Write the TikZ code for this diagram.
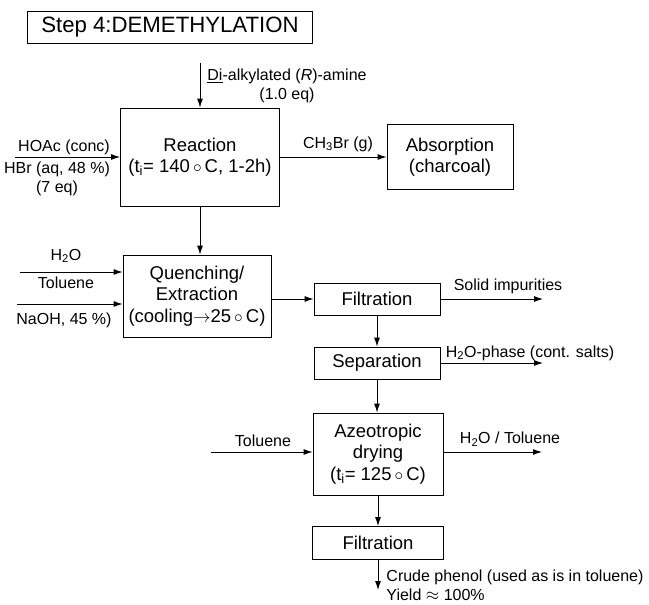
\documentclass[tikz,border=0pt]{standalone}
\usepackage{fontspec}
\setmainfont{Liberation Sans}
\usetikzlibrary{arrows.meta,positioning}

\tikzset{basic/.style={draw,line width=0.9pt,inner sep=0pt,align=center}}
\tikzset{process/.style={basic,rectangle,font=\fontsize{18.5}{21.5}\selectfont}}
\tikzset{heading/.style={basic,rectangle,font=\fontsize{22.2}{24}\selectfont}}
\tikzset{stream/.style={inner sep=0pt,align=center,font=\fontsize{16}{19}\selectfont}}

\begin{document}
\begin{tikzpicture}[x=1pt,y=-1pt,line width=0.9pt,>={Latex[length=9pt,width=6pt]}]
	\useasboundingbox (0,0) rectangle (649,605);

	\node[heading,minimum width=285pt,minimum height=32pt] (title) at (170,27) {Step 4:DEMETHYLATION};

	\node[process,minimum width=159pt,minimum height=98pt] (reaction) at (200,157) {Reaction\\(t\textsubscript{i}= 140\,$\circ$\,C, 1-2h)};
        \coordinate (amineIn) at (200,63);
            \path[draw,->] (amineIn) -- (reaction.north);
        \node[stream] (amine) at (287,86) {\underline{Di}-alkylated (\textit{R})-amine\\(1.0 eq)};
        \coordinate (acidIn) at (15,157);
            \path[draw,->] (acidIn) -- (reaction.west);
        \node[stream] (acid) at (64,147) {HOAc (conc)};
        \node[stream] (hbr) at (57,179) {HBr (aq, 48 \%)\\(7 eq)};
	\node[process,minimum width=126pt,minimum height=65pt] (absorption) at (450,157) {Absorption\\(charcoal)};
            \path[draw,->] (reaction) -- (absorption);
        \node[stream] (gas) at (338,144) {CH\textsubscript{3}Br (g)};

	\node[process,minimum width=148pt,minimum height=82pt] (quench) at (197,296) {Quenching/\\Extraction\\(cooling$\to$25\,$\circ$\,C)};
            \path[draw,->] (reaction.south) -- (reaction.south |- quench.north);
        \coordinate (waterIn) at (20,272);
            \path[draw,->] (waterIn) -- (waterIn -| quench.west);
        \node[stream] (water) at (66,256) {H\textsubscript{2}O};
        \node[stream] (toluene) at (66,283) {Toluene};
        \coordinate (causticIn) at (17,304);
            \path[draw,->] (causticIn) -- (causticIn -| quench.west);
        \node[stream] (caustic) at (64,320) {NaOH, 45 \%)};

	\node[process,minimum width=126pt,minimum height=32pt] (filtA) at (377,299) {Filtration};
            \path[draw,->] (quench.east |- filtA) -- (filtA.west);
        \coordinate (solidOut) at (543,299);
            \path[draw,->] (filtA.east) -- (solidOut);
        \node[stream] (solid) at (508,286) {Solid impurities};

	\node[process,minimum width=126pt,minimum height=32pt] (separation) at (377,363) {Separation};
            \path[draw,->] (filtA) -- (separation);
        \coordinate (saltOut) at (543,363);
            \path[draw,->] (separation.east) -- (saltOut);
        \node[stream] (salts) at (530,353) {H\textsubscript{2}O-phase (cont. salts)};

	\node[process,minimum width=130pt,minimum height=82pt] (azeo) at (378,454) {Azeotropic\\drying\\(t\textsubscript{i}= 125\,$\circ$\,C)};
            \path[draw,->] (separation.south) -- (separation.south |- azeo.north);
        \coordinate (tolueneIn) at (211,452);
            \path[draw,->] (tolueneIn) -- (tolueneIn -| azeo.west);
        \node[stream] (tolueneB) at (263,441) {Toluene};
        \coordinate (vapourOut) at (542,452);
            \path[draw,->] (vapourOut -| azeo.east) -- (vapourOut);
        \node[stream] (vapour) at (510,439) {H\textsubscript{2}O / Toluene};

	\node[process,minimum width=131pt,minimum height=33pt] (filtB) at (378,543) {Filtration};
            \path[draw,->] (azeo) -- (filtB);
        \coordinate (phenolOut) at (378,590);
            \path[draw,->] (filtB) -- (phenolOut);
        \node[stream,anchor=west,align=left] (phenol) at (386,585) {Crude phenol (used as is in toluene)\\Yield $\approx$ 100\%};

\end{tikzpicture}
\end{document}
